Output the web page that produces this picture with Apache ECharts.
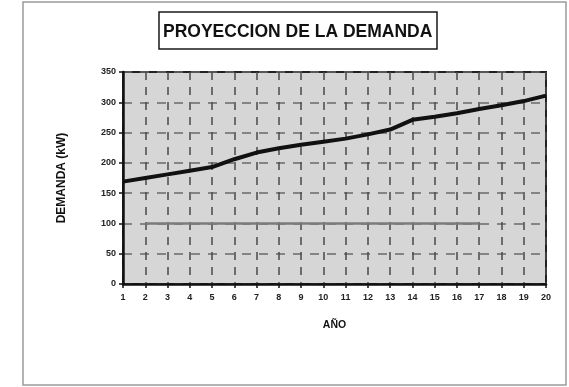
<!DOCTYPE html>
<html>
<head>
<meta charset="utf-8">
<title>Proyección de la demanda</title>
<script src="https://cdn.jsdelivr.net/npm/echarts@6/dist/echarts.min.js"></script>
<style>
  html, body { margin: 0; padding: 0; background: #ffffff; }
  #chart { width: 569px; height: 387px; }
</style>
</head>
<body>
<div id="chart"></div>
<script>
// Años del horizonte de proyección
const years = ['1','2','3','4','5','6','7','8','9','10','11','12','13','14','15','16','17','18','19','20'];
// Demanda proyectada (kW)
const demand = [169, 175, 181, 187, 193, 206, 217, 224, 230, 235, 240, 247, 255, 271, 276, 282, 289, 295, 302, 311];
// Nivel de referencia de 100 kW (años 2 a 17)
const reference = [null, 100, 100, 100, 100, 100, 100, 100, 100, 100, 100, 100, 100, 100, 100, 100, 100, null, null, null];
// Marcas del eje de demanda
const yMin = 0, yMax = 350, yStep = 50;

const FONT = '"Liberation Sans", Arial, sans-serif';
const chart = echarts.init(document.getElementById('chart'), null, { renderer: 'canvas' });

chart.setOption({
  animation: false,
  backgroundColor: '#ffffff',
  graphic: [
    // marco exterior del gráfico
    { type: 'rect', shape: { x: 23, y: 2, width: 543, height: 383 },
      style: { fill: 'none', stroke: '#9a9a9a', lineWidth: 1.5 }, z: 0 },
    // recuadro del título
    { type: 'rect', shape: { x: 159, y: 12, width: 278, height: 37 },
      style: { fill: '#ffffff', stroke: '#1a1a1a', lineWidth: 1.5 }, z: 1 },
    { type: 'text', left: 163, top: 23,
      style: { text: 'PROYECCION DE LA DEMANDA', font: 'bold 17.5px ' + FONT, fill: '#111111' }, z: 2 }
  ],
  grid: {
    left: 123, right: 23, top: 72, bottom: 103,
    show: true, backgroundColor: '#d6d6d6',
    borderColor: '#222222', borderWidth: 2
  },
  xAxis: {
    type: 'category', data: years, boundaryGap: false,
    name: 'AÑO', nameLocation: 'middle', nameGap: 36,
    nameTextStyle: { fontFamily: FONT, fontWeight: 'bold', fontSize: 10.5, color: '#111' },
    axisLine: { lineStyle: { color: '#111', width: 2.5 } },
    axisTick: { show: true, length: 4, interval: 0, lineStyle: { color: '#111', width: 1.5 } },
    axisLabel: { interval: 0, margin: 9, fontFamily: FONT, fontWeight: 'bold', fontSize: 9, color: '#222' },
    splitLine: { show: true, interval: 0, lineStyle: { color: '#4a4a4a', width: 1.5, type: [8, 7] } }
  },
  yAxis: {
    type: 'value', min: yMin, max: yMax, interval: yStep,
    name: 'DEMANDA (kW)', nameLocation: 'middle', nameGap: 55,
    nameTextStyle: { fontFamily: FONT, fontWeight: 'bold', fontSize: 12, color: '#111' },
    axisLine: { show: true, lineStyle: { color: '#111', width: 2.5 } },
    axisTick: { show: true, length: 4, lineStyle: { color: '#111', width: 1.5 } },
    axisLabel: { margin: 7, fontFamily: FONT, fontWeight: 'bold', fontSize: 9, color: '#222' },
    splitLine: { show: true, lineStyle: { color: '#6a6a6a', width: 1.5, type: [9, 8] } }
  },
  series: [
    {
      name: 'Referencia', type: 'line', data: reference,
      showSymbol: false, connectNulls: false,
      lineStyle: { color: '#7c7c7c', width: 2.5 }, z: 2
    },
    {
      name: 'Demanda', type: 'line', data: demand,
      showSymbol: false,
      lineStyle: { color: '#111111', width: 4 }, z: 3
    }
  ]
});
</script>
</body>
</html>
